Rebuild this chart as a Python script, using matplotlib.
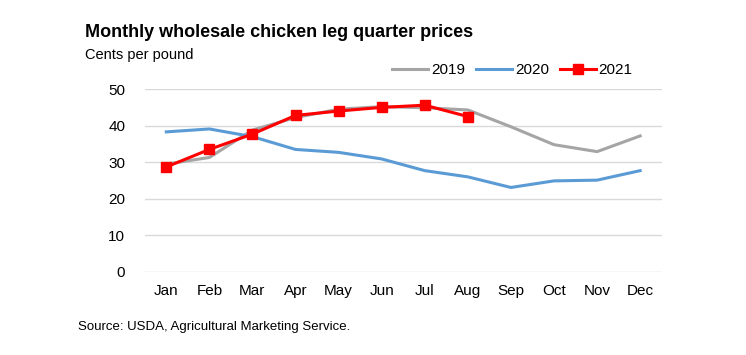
import matplotlib.pyplot as plt

plt.rcParams['font.family'] = ['Liberation Sans', 'DejaVu Sans']

months = ['Jan', 'Feb', 'Mar', 'Apr', 'May', 'Jun',
          'Jul', 'Aug', 'Sep', 'Oct', 'Nov', 'Dec']
prices_2019 = [29.5, 31.3, 38.8, 42.2, 44.5, 45.2, 44.9, 44.3, 39.7, 34.8, 32.9, 37.2]
prices_2020 = [38.3, 39.1, 37.0, 33.5, 32.7, 30.9, 27.7, 26.0, 23.1, 24.9, 25.1, 27.7]
prices_2021 = [28.7, 33.5, 37.7, 42.8, 44.0, 45.0, 45.6, 42.5]

fig = plt.figure(figsize=(7.46, 3.55), dpi=100)
ax = fig.add_axes([0.194, 0.234, 0.693, 0.515])

x = list(range(len(months)))
ax.plot(x, prices_2019, color='#A5A5A5', lw=2.2, label='2019')
ax.plot(x, prices_2020, color='#5B9BD5', lw=2.2, label='2020')
ax.plot(x[:len(prices_2021)], prices_2021, color='#FF0000', lw=2.2,
        marker='s', markersize=6.5, label='2021')

ax.set_xlim(-0.5, 11.5)
ax.set_ylim(0, 50)
ax.set_yticks(range(0, 51, 10))
ax.set_xticks(x)
ax.set_xticklabels(months)
ax.tick_params(length=0, labelsize=11, colors='black')
ax.tick_params(axis='y', pad=14)
ax.tick_params(axis='x', pad=9)
ax.grid(axis='y', color='#D9D9D9', lw=1)
ax.set_axisbelow(True)
for s in ax.spines.values():
    s.set_visible(False)

fig.text(0.114, 0.895, 'Monthly wholesale chicken leg quarter prices',
         fontsize=13, fontweight='bold')
fig.text(0.114, 0.835, 'Cents per pound', fontsize=10.5)
fig.text(0.104, 0.07, 'Source: USDA, Agricultural Marketing Service.', fontsize=9.5)

fig.legend(loc='center', bbox_to_anchor=(0.687, 0.803), ncol=3, frameon=False,
           fontsize=11, handlelength=2.35, columnspacing=0.7, handletextpad=0.2)

fig.savefig('out.png', dpi=100)
